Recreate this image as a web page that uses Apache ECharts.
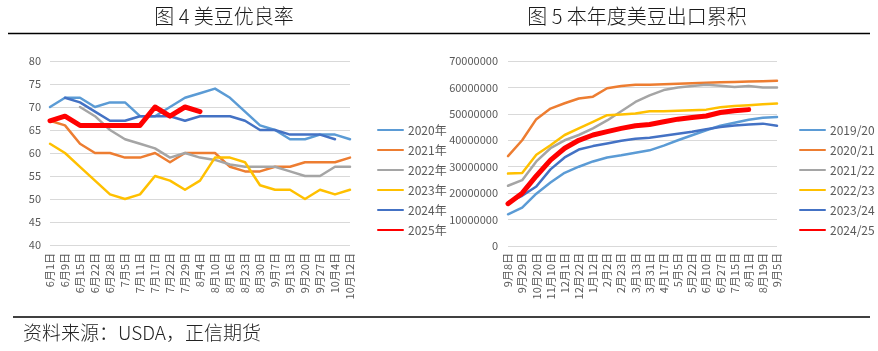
<!DOCTYPE html>
<html>
<head>
<meta charset="utf-8">
<script src="https://cdn.jsdelivr.net/npm/echarts@6/dist/echarts.min.js"></script>
<style>
  html, body { margin: 0; padding: 0; background: #fff; }
  #chart { width: 878px; height: 351px; }
</style>
</head>
<body>
<div id="chart"></div>
<script>
// 图4 美豆优良率（%）
const rateDates = ['6月1日', '6月9日', '6月15日', '6月22日', '6月28日', '7月5日', '7月11日', '7月17日', '7月22日', '7月29日',
  '8月4日', '8月10日', '8月16日', '8月23日', '8月30日', '9月7日', '9月13日', '9月20日', '9月27日', '10月4日', '10月12日']
const rateNames = ['2020年', '2021年', '2022年', '2023年', '2024年', '2025年']
const rate2020 = [70, 72, 72, 70, 71, 71, 68, 68, 70, 72, 73, 74, 72, 69, 66, 65, 63, 63, 64, 64, 63]
const rate2021 = [67, 66, 62, 60, 60, 59, 59, 60, 58, 60, 60, 60, 57, 56, 56, 57, 57, 58, 58, 58, 59]
const rate2022 = [null, null, 70, 68, 65, 63, 62, 61, 59, 60, 59, 58.5, 57.5, 57, 57, 57, 56, 55, 55, 57, 57]
const rate2023 = [62, 60, 57, 54, 51, 50, 51, 55, 54, 52, 54, 59, 59, 58, 53, 52, 52, 50, 52, 51, 52]
const rate2024 = [null, 72, 71, 69, 67, 67, 68, 68, 68, 67, 68, 68, 68, 67, 65, 65, 64, 64, 64, 63, null]
const rate2025 = [67, 68, 66, 66, 66, 66, 66, 70, 68, 70, 69]

// 图5 本年度美豆出口累积（吨）
const exportDates = ['9月8日', '9月29日', '10月20日', '11月10日', '12月1日', '12月22日', '1月12日', '2月2日', '2月23日', '3月13日',
  '3月31日', '4月17日', '5月5日', '5月22日', '6月10日', '6月27日', '7月15日', '8月1日', '8月19日', '9月5日']
const exportNames = ['2019/20', '2020/21', '2021/22', '2022/23', '2023/24', '2024/25']
const exp1920 = [12000000, 14500000, 19800000, 24000000, 27700000, 30000000, 32000000, 33500000, 34300000, 35300000,
  36200000, 38000000, 40000000, 41900000, 43800000, 45500000, 46600000, 47800000, 48500000, 48800000]
const exp2021 = [34000000, 40000000, 48000000, 52000000, 54000000, 55800000, 56500000, 59700000, 60500000, 61000000,
  61000000, 61200000, 61400000, 61600000, 61800000, 62000000, 62100000, 62200000, 62300000, 62500000]
const exp2122 = [22800000, 24900000, 32000000, 37000000, 40000000, 42000000, 44500000, 47500000, 51000000, 54500000,
  57000000, 59000000, 60000000, 60500000, 61000000, 60600000, 60200000, 60500000, 60000000, 60000000]
const exp2223 = [27400000, 27600000, 34500000, 38100000, 42000000, 44500000, 47000000, 49500000, 49800000, 50100000,
  51000000, 51000000, 51200000, 51400000, 51600000, 52500000, 53000000, 53300000, 53600000, 53900000]
const exp2324 = [16500000, 19000000, 22500000, 29000000, 33500000, 36500000, 37800000, 38800000, 39800000, 40600000,
  41000000, 41700000, 42500000, 43200000, 44200000, 45000000, 45600000, 46000000, 46300000, 45500000]
const exp2425 = [16000000, 20000000, 26500000, 32500000, 37000000, 40000000, 42000000, 43300000, 44500000, 45500000,
  46000000, 47000000, 48000000, 48600000, 49200000, 50500000, 51200000, 51600000]

const colors = ['#5B9BD5', '#ED7D31', '#A5A5A5', '#FFC000', '#4472C4', '#FF0000']
const cjk = '"Noto Sans CJK SC", "Noto Sans", sans-serif'
const labelText = { color: '#595959', fontSize: 11, fontFamily: cjk }

const lineSeries = (name, data, i, axisIndex) => ({
  name: name,
  type: 'line',
  data: data,
  xAxisIndex: axisIndex,
  yAxisIndex: axisIndex,
  symbol: 'none',
  connectNulls: false,
  lineStyle: { width: i === 5 ? 5 : 2.5, color: colors[i], join: 'round', cap: 'round' },
  itemStyle: { color: colors[i] },
  z: 2 + i
})

// 图例只画线段，不画圆点
const legendBase = {
  orient: 'vertical', top: 119,
  itemWidth: 25, itemHeight: 12, itemGap: 8,
  itemStyle: { opacity: 0 },
  textStyle: { color: '#595959', fontSize: 12, fontFamily: cjk }
}

const chart = echarts.init(document.getElementById('chart'))

chart.setOption({
  animation: false,
  backgroundColor: '#fff',
  grid: [
    { left: 50, top: 61, width: 300, height: 184 },
    { left: 508, top: 61, width: 269, height: 185 }
  ],
  xAxis: [
    {
      gridIndex: 0, type: 'category', data: rateDates, boundaryGap: false,
      axisLine: { show: false }, axisTick: { show: false },
      axisLabel: { ...labelText, rotate: 90, interval: 0, margin: 8 }
    },
    {
      gridIndex: 1, type: 'category', data: exportDates, boundaryGap: false,
      axisLine: { show: false }, axisTick: { show: false },
      axisLabel: { ...labelText, rotate: 90, interval: 0, margin: 7 }
    }
  ],
  yAxis: [
    {
      gridIndex: 0, type: 'value', min: 40, max: 80, interval: 5,
      axisLine: { show: false }, axisTick: { show: false },
      axisLabel: { ...labelText, margin: 9 },
      splitLine: { lineStyle: { color: '#D9D9D9', width: 1 } }
    },
    {
      gridIndex: 1, type: 'value', min: 0, max: 70000000, interval: 10000000,
      axisLine: { show: false }, axisTick: { show: false },
      axisLabel: { ...labelText, margin: 10, formatter: v => String(v) },
      splitLine: { lineStyle: { color: '#D9D9D9', width: 1 } }
    }
  ],
  legend: [
    { ...legendBase, data: rateNames, left: 372 },
    { ...legendBase, data: exportNames, left: 794 }
  ],
  graphic: [
    { type: 'text', x: 224, y: 16, style: { text: '图 4 美豆优良率', font: '300 20px ' + cjk, fill: '#1a1a1a', textAlign: 'center', textVerticalAlign: 'middle' } },
    { type: 'text', x: 637, y: 16, style: { text: '图 5 本年度美豆出口累积', font: '300 20px ' + cjk, fill: '#1a1a1a', textAlign: 'center', textVerticalAlign: 'middle' } },
    { type: 'line', shape: { x1: 8, y1: 33.5, x2: 870, y2: 33.5 }, style: { stroke: '#000', lineWidth: 1.5 } },
    { type: 'line', shape: { x1: 13, y1: 317, x2: 870, y2: 317 }, style: { stroke: '#000', lineWidth: 1.5 } },
    { type: 'text', x: 23, y: 333, style: { text: '资料来源：USDA，正信期货', font: '300 19px ' + cjk, fill: '#222', textVerticalAlign: 'middle' } }
  ],
  series: [
    lineSeries(rateNames[0], rate2020, 0, 0),
    lineSeries(rateNames[1], rate2021, 1, 0),
    lineSeries(rateNames[2], rate2022, 2, 0),
    lineSeries(rateNames[3], rate2023, 3, 0),
    lineSeries(rateNames[4], rate2024, 4, 0),
    lineSeries(rateNames[5], rate2025, 5, 0),
    lineSeries(exportNames[0], exp1920, 0, 1),
    lineSeries(exportNames[1], exp2021, 1, 1),
    lineSeries(exportNames[2], exp2122, 2, 1),
    lineSeries(exportNames[3], exp2223, 3, 1),
    lineSeries(exportNames[4], exp2324, 4, 1),
    lineSeries(exportNames[5], exp2425, 5, 1)
  ]
})
</script>
</body>
</html>
